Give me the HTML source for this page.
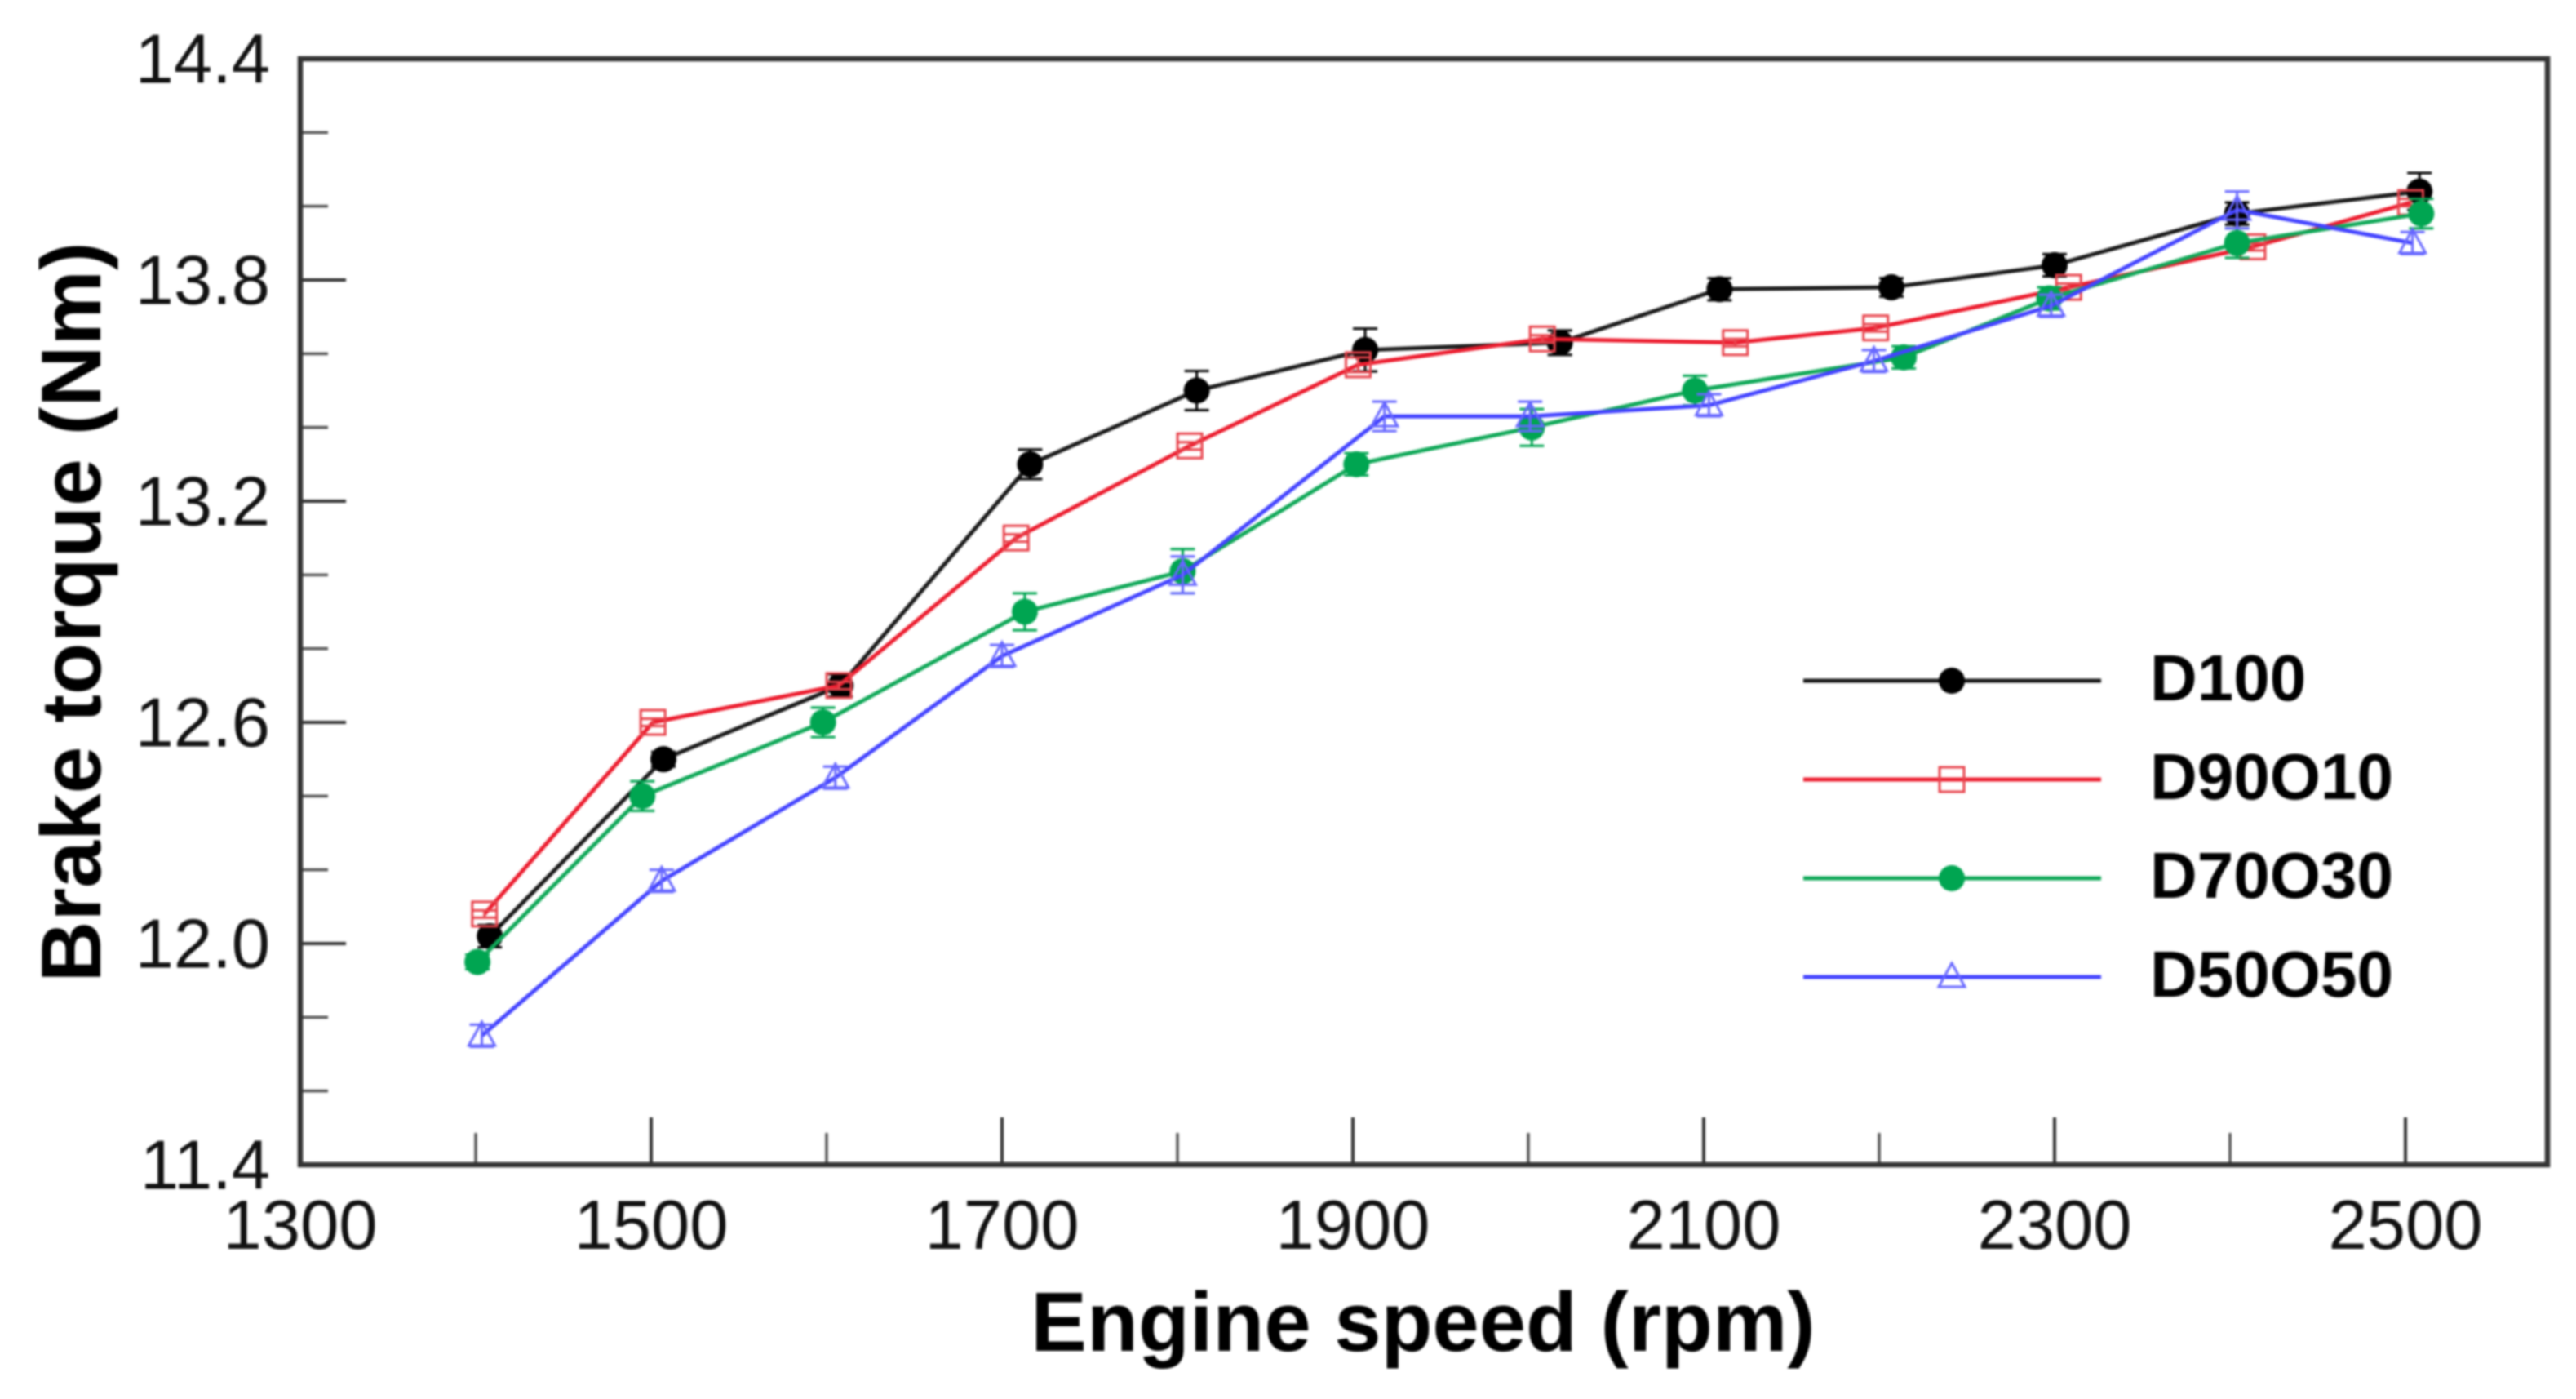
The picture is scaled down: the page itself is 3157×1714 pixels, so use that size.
<!DOCTYPE html>
<html>
<head>
<meta charset="utf-8">
<title>Brake torque vs engine speed</title>
<style>
html,body{margin:0;padding:0;background:#fff;width:3157px;height:1714px;overflow:hidden}
svg{display:block;font-family:"Liberation Sans",Arial,sans-serif}
</style>
</head>
<body>
<svg id="chart" xmlns="http://www.w3.org/2000/svg" width="3157" height="1714" viewBox="0 0 3157 1714">
  <rect x="0" y="0" width="3157" height="1714" fill="#fff"/>
  <g id="root" style="filter:blur(1.2px)"></g>
</svg>
<script>
const xTickMajor = [1300,1500,1700,1900,2100,2300,2500];
const xTickMinor = [1400,1600,1800,2000,2200,2400];
const xTickLabels = ['1300','1500','1700','1900','2100','2300','2500'];
const yTickMajor = [11.4,12.0,12.6,13.2,13.8,14.4];
const yTickMinor = [11.6,11.8,12.2,12.4,12.8,13.0,13.4,13.6,14.0,14.2];
const yTickLabels = ['11.4','12.0','12.6','13.2','13.8','14.4'];

const seriesNames = ['D100','D90O10','D70O30','D50O50'];

const d100Rpm = [1408,1507,1608,1716,1811,1907,2018,2109,2207,2300,2404,2508];
const d100Torque = [12.02,12.50,12.70,13.30,13.50,13.61,13.63,13.775,13.78,13.84,13.98,14.04];
const d100Err = [0.03,0.02,0.03,0.04,0.053,0.058,0.033,0.03,0.025,0.03,0.03,0.05];

const d90o10Rpm = [1405,1501,1607,1708,1807,1903,2008,2118,2198,2308,2413,2503];
const d90o10Torque = [12.08,12.60,12.70,13.10,13.35,13.57,13.64,13.63,13.67,13.78,13.89,14.01];
const d90o10Err = [0.01,0.01,0.01,0.01,0.01,0.02,0.01,0.01,0.01,0.01,0.01,0.01];

const d70o30Rpm = [1401,1495,1598,1713,1803,1902,2002,2095,2214,2297,2404,2509];
const d70o30Torque = [11.95,12.40,12.60,12.90,13.01,13.30,13.40,13.50,13.59,13.75,13.90,13.98];
const d70o30Err = [0.02,0.04,0.04,0.05,0.06,0.03,0.05,0.04,0.03,0.03,0.04,0.04];

const d50o50Rpm = [1403.5,1506,1605,1700,1803,1918,2001,2103,2197,2298,2404,2504];
const d50o50Torque = [11.75,12.17,12.45,12.78,13.00,13.43,13.43,13.46,13.58,13.73,13.99,13.90];
const d50o50Err = [0.03,0.03,0.03,0.03,0.05,0.04,0.04,0.03,0.03,0.03,0.05,0.03];

const colorLine = ['#1a1a1a','#ec1c2e','#10a858','#4343ff'];
const colorMark = ['#000000','#e8434c','#00a551','#6666ff'];
const markKind = ['circle','square','circle','triangle'];
const markSlugs = ['d100','d90o10','d70o30','d50o50'];

const X0 = 368, Y_TOP = 72, Y_BOT = 1427, X_RIGHT = 3122;
function xScale(v){ return X0 + (v - 1300) * 2.15; }
function yScale(v){ return Y_BOT - (v - 11.4) * (Y_BOT - Y_TOP) / 3; }

const NS = 'http://www.w3.org/2000/svg';
const root = document.getElementById('root');
function make(tag, attrs, parent){
  const e = document.createElementNS(NS, tag);
  for (const k in attrs) e.setAttribute(k, attrs[k]);
  (parent || root).appendChild(e);
  return e;
}

function drawMarker(kind, cx, cy, i, parent){
  let m;
  if (kind === 'circle') {
    m = make('circle', {cx: cx, cy: cy, r: 16, fill: colorMark[i]}, parent);
  } else if (kind === 'square') {
    m = make('rect', {x: cx - 15, y: cy - 15, width: 30, height: 30, fill: 'none', stroke: colorMark[i], 'stroke-width': 3}, parent);
  } else {
    m = make('polygon', {points: (cx) + ',' + (cy - 17) + ' ' + (cx + 16) + ',' + (cy + 12) + ' ' + (cx - 16) + ',' + (cy + 12), fill: 'none', stroke: colorMark[i], 'stroke-width': 3}, parent);
  }
  
  
}

function drawSeries(i, rpm, torque, err){
  const g = make('g', {});
  
  
  const line = make('polyline', {
    points: rpm.map(function(r, k){ return xScale(r) + ',' + yScale(torque[k]); }).join(' '),
    fill: 'none', stroke: colorLine[i], 'stroke-width': 5, 'stroke-linejoin': 'round'
  }, g);
  
  
  rpm.forEach(function(r, k){
    const cx = xScale(r), cy = yScale(torque[k]);
    const top = yScale(torque[k] + err[k]), bot = yScale(torque[k] - err[k]);
    const eb = make('path', {
      d: 'M' + cx + ' ' + top + 'V' + bot + 'M' + (cx - 15) + ' ' + top + 'H' + (cx + 15) + 'M' + (cx - 15) + ' ' + bot + 'H' + (cx + 15),
      fill: 'none', stroke: colorMark[i], 'stroke-width': 3
    }, g);
    
    
    drawMarker(markKind[i], cx, cy, i, g);
  });
}

/* ticks */
xTickMajor.forEach(function(v, k){
  const t = make('line', {x1: xScale(v), x2: xScale(v), y1: Y_BOT, y2: Y_BOT - 58, stroke: '#333', 'stroke-width': 4});
  
  
  const l = make('text', {x: xScale(v), y: 1530, 'text-anchor': 'middle', 'font-size': 85, fill: '#111'});
  l.textContent = xTickLabels[k];
  
  
});
xTickMinor.forEach(function(v){
  const t = make('line', {x1: xScale(v), x2: xScale(v), y1: Y_BOT, y2: Y_BOT - 39, stroke: '#555', 'stroke-width': 3.5});
  
  
});
yTickMajor.forEach(function(v, k){
  const t = make('line', {x1: X0, x2: X0 + 56, y1: yScale(v), y2: yScale(v), stroke: '#333', 'stroke-width': 4});
  
  
  const l = make('text', {x: 331, y: yScale(v) + 29.5, 'text-anchor': 'end', 'font-size': 85, fill: '#111'});
  l.textContent = yTickLabels[k];
  
  
});
yTickMinor.forEach(function(v){
  const t = make('line', {x1: X0, x2: X0 + 34, y1: yScale(v), y2: yScale(v), stroke: '#555', 'stroke-width': 3.5});
  
  
});

/* plot frame */
const frame = make('rect', {x: X0, y: Y_TOP, width: X_RIGHT - X0, height: Y_BOT - Y_TOP, fill: 'none', stroke: '#333', 'stroke-width': 6.5});



/* series */
drawSeries(0, d100Rpm, d100Torque, d100Err);
drawSeries(1, d90o10Rpm, d90o10Torque, d90o10Err);
drawSeries(2, d70o30Rpm, d70o30Torque, d70o30Err);
drawSeries(3, d50o50Rpm, d50o50Torque, d50o50Err);

/* axis titles */
const xTitle = make('text', {x: 1744, y: 1655, 'text-anchor': 'middle', 'font-size': 103, 'font-weight': 'bold', fill: '#000'});
xTitle.textContent = 'Engine speed (rpm)';



const yTitle = make('text', {x: 0, y: 0, transform: 'translate(123 750) rotate(-90)', 'text-anchor': 'middle', 'font-size': 104, 'font-weight': 'bold', fill: '#000'});
yTitle.textContent = 'Brake torque (Nm)';



/* legend */
const legend = make('g', {});


seriesNames.forEach(function(name, i){
  const ly = 834 + i * 121;
  const entry = make('g', {}, legend);
  
  
  const ll = make('line', {x1: 2210, x2: 2575, y1: ly, y2: ly, stroke: colorLine[i], 'stroke-width': 5}, entry);
  
  
  drawMarker(markKind[i], 2392, ly, i, entry);
  const t = make('text', {x: 2635, y: ly + 24, 'font-size': 80, 'font-weight': 'bold', fill: '#000'}, entry);
  t.textContent = name;
  
  
});
</script>
</body>
</html>
